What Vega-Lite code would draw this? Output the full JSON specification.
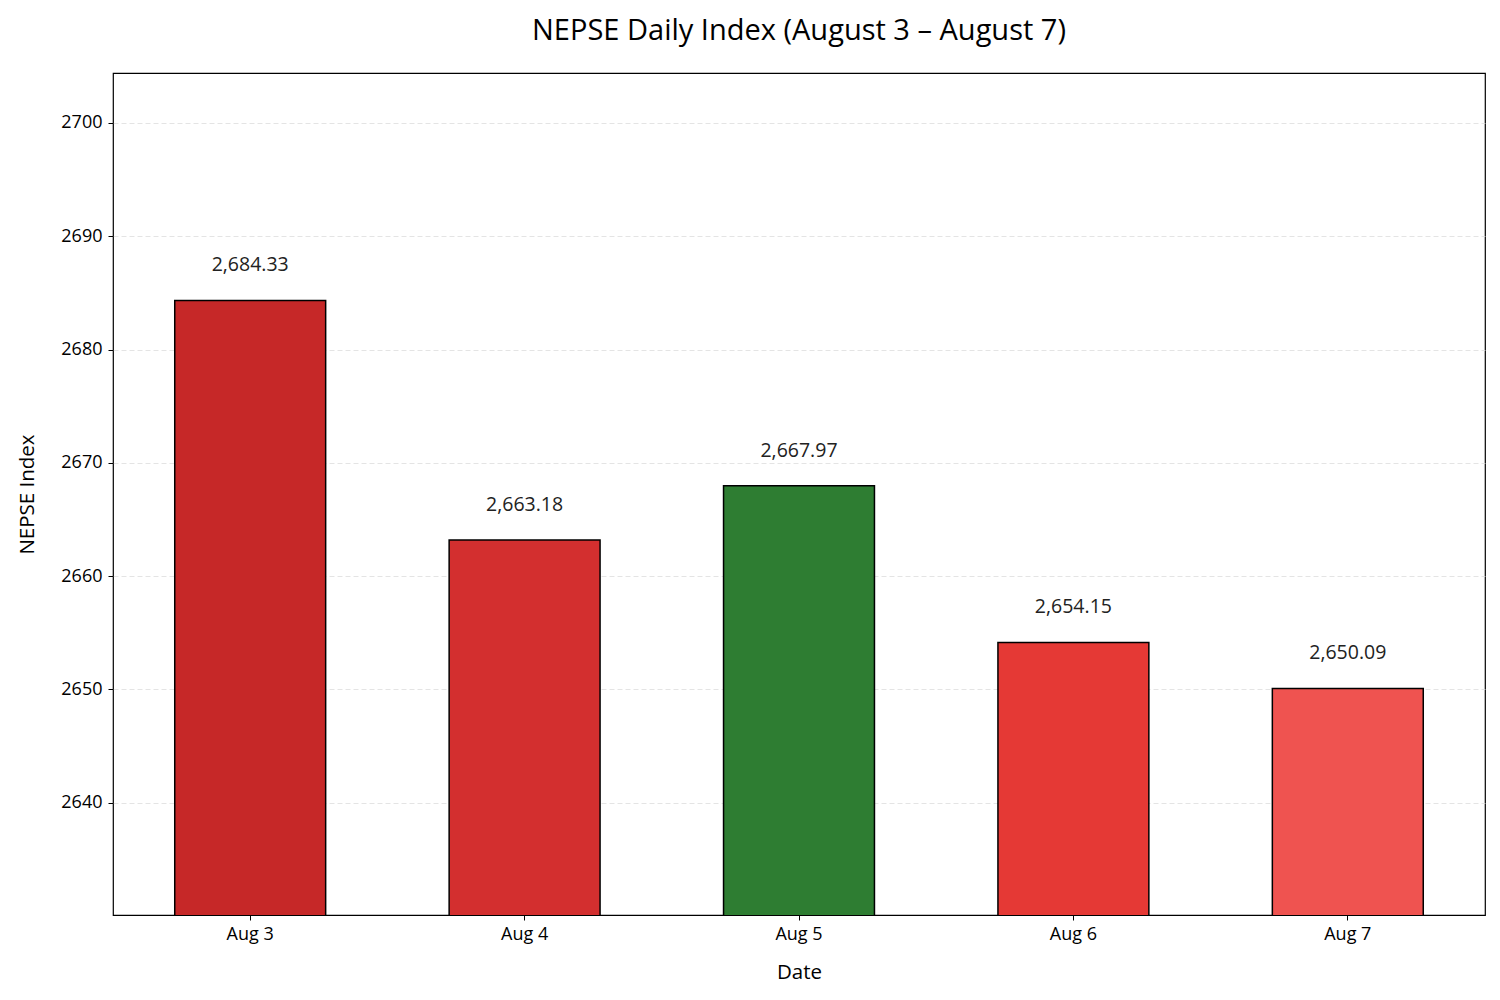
{
  "$schema": "https://vega.github.io/schema/vega-lite/v6.json",
  "autosize": "none",
  "width": 1372,
  "height": 842,
  "padding": {"left": 113, "top": 73, "right": 15, "bottom": 85},
  "background": "white",
  "config": {
    "font": "Open Sans",
    "view": {"stroke": "black", "strokeWidth": 1.2},
    "axis": {
      "labelFont": "Open Sans",
      "titleFont": "Open Sans",
      "labelColor": "black",
      "titleColor": "black",
      "labelFontSize": 18,
      "titleFontSize": 20.5,
      "titleFontWeight": "normal",
      "tickColor": "black",
      "tickSize": 5,
      "domain": false
    }
  },
  "title": {
    "text": "NEPSE Daily Index (August 3 – August 7)",
    "fontSize": 29,
    "fontWeight": "normal",
    "font": "Open Sans",
    "color": "black",
    "anchor": "middle",
    "offset": 27
  },
  "data": {
    "values": [
      {"date": "Aug 3", "index": 2684.33, "color": "#c62828"},
      {"date": "Aug 4", "index": 2663.18, "color": "#d32f2f"},
      {"date": "Aug 5", "index": 2667.97, "color": "#2e7d32"},
      {"date": "Aug 6", "index": 2654.15, "color": "#e53935"},
      {"date": "Aug 7", "index": 2650.09, "color": "#ef5350"}
    ]
  },
  "encoding": {
    "x": {
      "field": "date",
      "type": "ordinal",
      "sort": null,
      "scale": {"paddingInner": 0.45, "paddingOuter": 0.225},
      "axis": {"title": "Date", "labelAngle": 0, "labelPadding": 5, "titlePadding": 19, "grid": false}
    },
    "y": {
      "field": "index",
      "type": "quantitative",
      "scale": {"domain": [2630.1, 2704.4], "nice": false, "zero": false},
      "axis": {
        "title": "NEPSE Index",
        "values": [2640, 2650, 2660, 2670, 2680, 2690, 2700],
        "format": "d",
        "grid": true,
        "gridColor": "#dddddd",
        "gridDash": [5, 3],
        "gridWidth": 0.8,
        "labelPadding": 6,
        "titlePadding": 23
      }
    }
  },
  "layer": [
    {
      "mark": {"type": "bar", "stroke": "black", "strokeWidth": 1.5, "clip": true},
      "encoding": {
        "color": {"field": "color", "type": "nominal", "scale": null}
      }
    },
    {
      "mark": {"type": "text", "baseline": "bottom", "dy": -25, "fontSize": 19.5, "color": "#222222"},
      "encoding": {
        "text": {"field": "index", "type": "quantitative", "format": ",.2f"}
      }
    }
  ]
}
